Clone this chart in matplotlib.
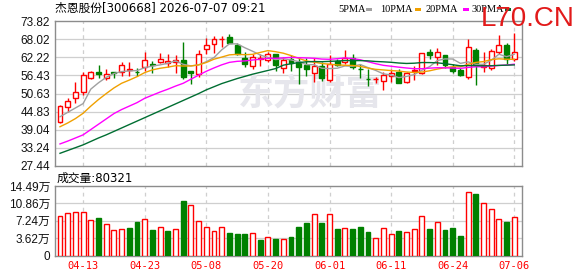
import numpy as np
import matplotlib
matplotlib.use("Agg")
import matplotlib.pyplot as plt
from matplotlib.patches import Rectangle

# ---------------- data ----------------
title = "杰恩股份[300668] 2026-07-07 09:21"
opens = [41.54, 46.25, 49.32, 51.25, 55.54, 57.56, 55.73, 57.46, 57.65, 58.29,
         57.65, 59.16, 60.22, 60.86, 60.54, 60.67, 61.40, 57.78, 56.92, 64.83,
         66.43, 67.91, 68.67, 66.21, 62.04, 59.48, 61.60, 61.40, 63.23, 58.74,
         61.63, 60.67, 59.80, 57.33, 59.48, 55.00, 61.08, 60.67, 61.95, 58.61,
         55.30, 55.15, 54.77, 56.37, 57.65, 54.45, 57.78, 57.14, 63.97, 62.46,
         63.00, 59.26, 58.20, 55.86, 64.61, 59.26, 58.93, 64.06, 66.21, 61.63]
closes = [46.66, 48.27, 51.15, 56.60, 57.46, 56.82, 56.95, 57.24, 59.70, 58.52,
          57.56, 61.31, 59.90, 61.63, 61.08, 61.40, 55.86, 57.33, 63.23, 66.21,
          68.04, 68.13, 66.94, 63.23, 60.03, 62.46, 62.00, 63.23, 59.70, 61.40,
          60.54, 59.26, 58.52, 59.48, 55.73, 60.03, 59.80, 62.14, 59.06, 58.42,
          55.15, 55.30, 56.60, 57.33, 54.13, 57.14, 58.20, 63.55, 63.10, 63.87,
          59.80, 57.97, 56.60, 65.47, 59.80, 59.80, 64.38, 66.21, 61.63, 63.87]
highs = [46.90, 49.23, 54.45, 57.56, 57.97, 59.90, 58.42, 57.50, 60.67, 60.67,
         58.93, 63.97, 61.18, 63.55, 63.33, 63.10, 67.17, 57.78, 64.61, 68.35,
         69.09, 69.09, 69.73, 66.75, 64.06, 63.33, 63.33, 64.06, 63.23, 62.27,
         63.00, 62.14, 61.95, 61.95, 60.76, 63.00, 61.63, 64.61, 63.33, 60.03,
         58.42, 56.05, 57.46, 58.42, 58.42, 57.65, 59.48, 63.74, 64.83, 65.15,
         63.00, 60.12, 58.74, 68.04, 65.15, 63.87, 64.83, 69.19, 66.75, 69.96]
lows = [41.12, 44.84, 47.53, 50.19, 55.22, 55.54, 55.00, 55.54, 56.37, 56.37,
        56.28, 57.97, 57.33, 60.35, 59.06, 57.33, 55.22, 53.62, 56.05, 63.33,
        63.55, 65.47, 66.75, 63.00, 59.06, 58.42, 59.48, 60.86, 57.97, 57.33,
        57.97, 53.62, 56.28, 54.45, 54.77, 54.45, 59.58, 60.03, 58.42, 55.73,
        53.07, 53.94, 51.79, 54.26, 53.94, 54.13, 55.00, 56.82, 61.82, 59.80,
        58.74, 57.14, 56.37, 55.22, 53.39, 57.65, 58.20, 63.33, 60.12, 61.18]
ma5 = [43.2, 44.6, 46.0, 47.4, 52.03, 54.06, 55.80, 57.02, 57.64, 57.85,
       57.97, 58.87, 59.40, 59.78, 60.30, 61.06, 59.97, 59.46, 59.78, 60.81,
       62.13, 64.59, 66.51, 66.51, 65.27, 64.16, 62.93, 62.19, 61.48, 61.76,
       61.37, 60.83, 59.88, 59.84, 58.71, 58.60, 58.71, 59.44, 59.35, 59.89,
       58.91, 58.01, 56.91, 56.56, 55.70, 56.10, 56.68, 58.07, 59.22, 61.17,
       61.70, 61.66, 60.27, 60.74, 59.97, 59.97, 61.26, 63.18, 62.41, 63.18]
ma10 = [40.0, 41.2, 42.6, 44.3, 46.6, 48.7, 50.6, 52.4, 53.9, 54.92,
        56.01, 57.32, 58.19, 58.70, 59.06, 59.52, 59.42, 59.43, 59.78, 60.55,
        61.60, 62.28, 62.99, 63.15, 63.04, 63.15, 63.76, 64.35, 64.00, 63.52,
        62.77, 61.88, 61.04, 60.66, 60.23, 59.99, 59.77, 59.66, 59.60, 59.30,
        58.76, 58.36, 58.17, 57.96, 57.80, 57.51, 57.35, 57.49, 57.89, 58.44,
        58.90, 59.17, 59.17, 59.98, 60.57, 60.84, 61.46, 61.72, 61.58, 61.58]
ma20 = [34.5, 35.4, 36.4, 37.4, 39.1, 40.8, 42.5, 44.2, 45.5, 46.6,
        47.7, 49.1, 50.1, 51.1, 52.0, 53.0, 53.9, 55.2, 56.5, 57.74,
        58.81, 59.80, 60.59, 60.92, 61.05, 61.33, 61.59, 61.89, 61.89, 62.03,
        62.18, 62.08, 62.01, 61.90, 61.64, 61.57, 61.76, 62.01, 61.80, 61.41,
        60.80, 60.16, 59.64, 59.35, 59.05, 58.79, 58.56, 58.57, 58.74, 58.87,
        58.83, 58.77, 58.67, 58.97, 59.18, 59.17, 59.40, 59.61, 59.73, 60.01]
ma30 = [31.5, 32.4, 33.3, 34.2, 35.3, 36.4, 37.4, 38.5, 39.6, 40.7,
        41.8, 42.9, 44.0, 45.1, 46.2, 47.3, 48.4, 49.5, 50.6, 51.8,
        52.8, 53.8, 54.6, 55.4, 56.1, 56.8, 57.4, 58.0, 58.6, 59.69,
        60.15, 60.52, 60.77, 60.86, 60.80, 60.91, 61.01, 61.17, 61.15, 61.15,
        61.07, 60.87, 60.76, 60.61, 60.38, 60.24, 60.32, 60.53, 60.52, 60.44,
        60.17, 59.83, 59.49, 59.56, 59.56, 59.47, 59.52, 59.62, 59.69, 59.77]
volumes = [8.15, 8.78, 9.13, 9.13, 7.45, 7.87, 6.48, 5.36, 5.57, 5.64,
           6.90, 7.66, 5.22, 5.99, 5.02, 5.57, 11.29, 10.45, 7.24, 5.99,
           5.15, 5.99, 4.60, 4.39, 4.39, 4.74, 3.13, 3.90, 3.34, 3.48,
           3.76, 5.85, 6.69, 8.57, 6.69, 8.57, 5.43, 5.78, 5.43, 5.85,
           4.81, 3.69, 5.78, 4.53, 5.02, 4.95, 5.57, 8.15, 5.43, 7.04,
           5.22, 5.64, 3.97, 13.31, 12.75, 11.01, 9.75, 7.66, 6.90, 8.03]
vol_up = [1, 1, 1, 1, 1, 0, 1, 1, 1, 0, 0, 1, 0, 1, 0, 1, 0, 1, 1, 1,
          1, 1, 0, 0, 0, 1, 0, 1, 0, 1, 0, 0, 0, 1, 0, 1, 0, 1, 0, 0,
          0, 1, 1, 1, 0, 1, 1, 1, 0, 1, 0, 0, 0, 1, 0, 1, 1, 1, 0, 1]
price_ticks = [27.44, 33.24, 39.04, 44.83, 50.63, 56.43, 62.22, 68.02, 73.82]
vol_ticks = [0, 3.62, 7.24, 10.86, 14.49]
vol_tick_labels = ["0", "3.62万", "7.24万", "10.86万", "14.49万"]
date_pos = [3, 11, 19, 27, 35, 43, 51, 59]
date_labels = ["04-13", "04-23", "05-08", "05-20", "06-01", "06-11", "06-24", "07-06"]
legend_names = ["5PMA", "10PMA", "20PMA", "30PMA"]
volume_title = "成交量:80321"

# ---------------- style ----------------
UP = "#ff0000"
DOWN = "#008000"
MA_COLORS = ["#a0a0a0", "#f0a000", "#ff00ff", "#006e32"]
GRID = "#cfcfcf"
BORDER = "#8c8c8c"
W, H = 578, 276

def rect(l, t, r, b):
    return [l / W, 1 - b / H, (r - l) / W, (b - t) / H]

fig = plt.figure(figsize=(W / 100, H / 100), dpi=100)
fig.patch.set_facecolor("white")

ax = fig.add_axes(rect(55, 21, 522, 166))
axv = fig.add_axes(rect(55, 186, 522, 255.5))

x = np.arange(len(opens))
o = np.array(opens); c = np.array(closes)
hi = np.array(highs); lo = np.array(lows)
up = c >= o
bw = 0.64

for a in (ax, axv):
    a.set_xlim(-0.65, 60.0)
    for s in a.spines.values():
        s.set_color(BORDER)
        s.set_linewidth(1.0)
    a.tick_params(length=0)
    for p in date_pos:
        a.axvline(p, color=GRID, lw=0.9, ls=(0, (3, 3)), zorder=0)

# price panel
ax.set_ylim(price_ticks[0], price_ticks[-1])
ax.set_yticks(price_ticks)
ax.set_yticklabels([f"{t:.2f}" for t in price_ticks], fontsize=8.5,
                   family="Liberation Sans", color="#111111")
ax.set_xticks([])
for t in price_ticks[1:-1]:
    ax.axhline(t, color=GRID, lw=0.9, zorder=0)

# watermark
ax.text(0.546, 0.50, "东方财富", transform=ax.transAxes, fontsize=26,
        family="Noto Sans CJK SC", fontweight="bold", color="#e6e6ec",
        ha="center", va="center", zorder=0.5)

ax.vlines(x, lo, hi, colors=np.where(up, UP, DOWN), lw=1.0, zorder=2)
body_h = np.maximum(np.abs(c - o), 0.08)
ax.bar(x[up], body_h[up], bottom=np.minimum(o, c)[up], width=bw,
       facecolor="white", edgecolor=UP, lw=1.0, zorder=3)
ax.bar(x[~up], body_h[~up], bottom=np.minimum(o, c)[~up], width=bw,
       facecolor=DOWN, edgecolor=DOWN, lw=1.0, zorder=3)

for ma, col in zip([ma5, ma10, ma20, ma30], MA_COLORS):
    ax.plot(x, ma, color=col, lw=1.0, zorder=4)

# volume panel
vu = np.array(vol_up).astype(bool)
v = np.array(volumes)
axv.set_ylim(vol_ticks[0], vol_ticks[-1])
axv.set_yticks(vol_ticks)
axv.set_yticklabels(vol_tick_labels, fontsize=8.5,
                    family=["Liberation Sans", "Noto Sans CJK SC"], color="#111111")
for t in vol_ticks[1:-1]:
    axv.axhline(t, color=GRID, lw=0.9, zorder=0)
axv.bar(x[vu], v[vu], width=bw, facecolor="white", edgecolor=UP, lw=1.0, zorder=3)
axv.bar(x[~vu], v[~vu], width=bw, facecolor=DOWN, edgecolor=DOWN, lw=1.0, zorder=3)
axv.set_xticks(date_pos)
axv.set_xticklabels(date_labels, fontsize=7.5, family="DejaVu Sans Mono", color=UP)
axv.tick_params(axis="x", pad=4)

# texts
fig.text(55 / W, 1 - 8.5 / H, title, fontsize=8.5, family=["DejaVu Sans", "Noto Sans CJK SC"],
         ha="left", va="center", color="black")
fig.text(57 / W, 1 - 178 / H, volume_title, fontsize=8.5,
         family=["DejaVu Sans", "Noto Sans CJK SC"], ha="left", va="center", color="black")

leg_x = [338, 380, 426, 472]
sq_x = [366, 415, 463, 505]
for name, lx, sx, col in zip(legend_names, leg_x, sq_x, MA_COLORS):
    fig.text(lx / W, 1 - 9 / H, name, fontsize=7.5, family="Liberation Serif",
             ha="left", va="center", color="black")
    fig.patches.append(Rectangle((sx / W, 1 - 11 / H), 6 / W, 3.5 / H,
                                 transform=fig.transFigure, facecolor=col,
                                 edgecolor="none"))

fig.text(481 / W, 1 - 26 / H, "L70.CN", fontsize=20, family="Liberation Sans",
         color="#e21a1a", ha="left", va="baseline")

fig.savefig("out.png", dpi=100)
